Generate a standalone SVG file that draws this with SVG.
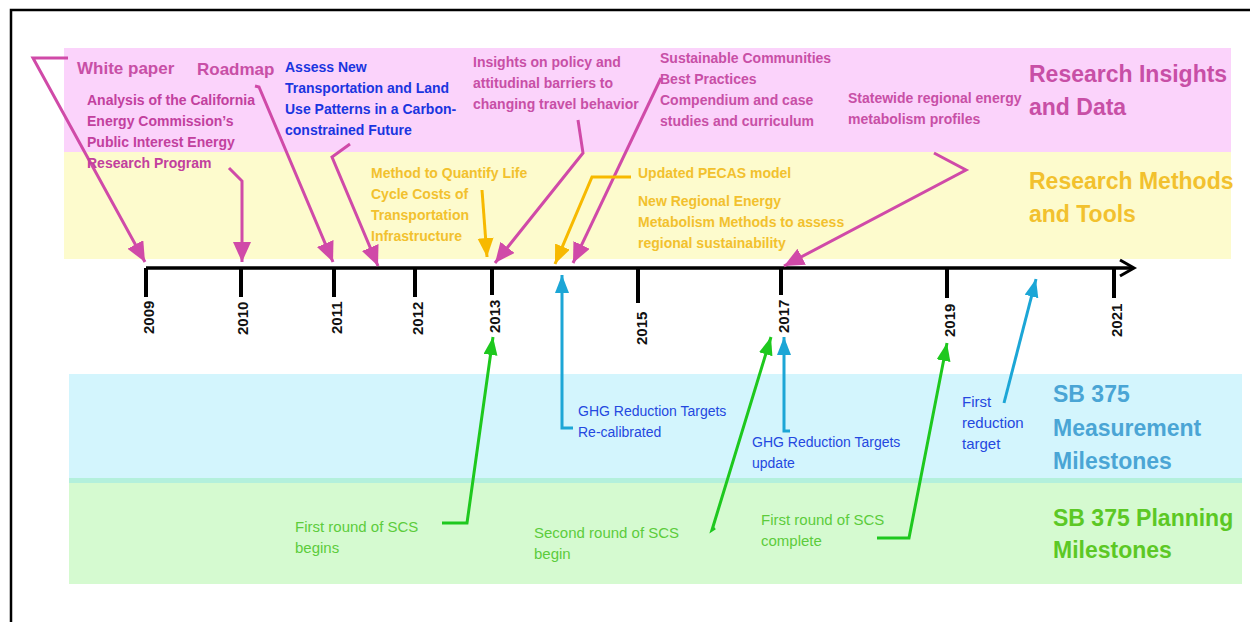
<svg xmlns="http://www.w3.org/2000/svg" width="1250" height="622" viewBox="0 0 1250 622">
<defs>
<style>
text{font-family:"Liberation Sans",Arial,sans-serif}
.b{font-weight:bold}
.t14{font-size:14px}
.t15{font-size:15px}
.t17{font-size:17px}
.big{font-size:23px;font-weight:bold}
.yr{font-size:15px;font-weight:bold;fill:#111}
.pk{fill:#c84fa6}
.pk2{fill:#c2409e}
.bl{fill:#1a35e0}
.ye{fill:#f2c12e}
.bt{fill:#2448e0}
.gt{fill:#5ccc3c}
.lp{fill:none;stroke:#d04aa8;stroke-width:3;stroke-linejoin:miter}
.ly{fill:none;stroke:#f7b900;stroke-width:3}
.lb{fill:none;stroke:#1ca6d6;stroke-width:3}
.lg{fill:none;stroke:#1ec81e;stroke-width:3}
.tick{stroke:#000;stroke-width:4}
</style>
<marker id="ap" markerUnits="userSpaceOnUse" markerWidth="22" markerHeight="20" refX="20" refY="9" orient="auto"><path d="M0,0 L20,9 L0,18 z" fill="#d04aa8"/></marker>
<marker id="ay" markerUnits="userSpaceOnUse" markerWidth="22" markerHeight="20" refX="19" refY="8" orient="auto"><path d="M0,0 L19,8 L0,16 z" fill="#f7b900"/></marker>
<marker id="ab" markerUnits="userSpaceOnUse" markerWidth="22" markerHeight="20" refX="18" refY="7" orient="auto"><path d="M0,0 L18,7 L0,14 z" fill="#1ca6d6"/></marker>
<marker id="ag" markerUnits="userSpaceOnUse" markerWidth="22" markerHeight="20" refX="18" refY="7" orient="auto"><path d="M0,0 L18,7 L0,14 z" fill="#1ec81e"/></marker>
</defs>
<rect x="0" y="0" width="1250" height="622" fill="#fff"/>
<path d="M11,622 V10 H1250" fill="none" stroke="#000" stroke-width="2.5"/>
<g id="bands">
<rect x="64" y="48" width="1167" height="104" fill="#fbd3fb"/>
<rect x="64" y="152" width="1167" height="107" fill="#fdfbcd"/>
<rect x="69" y="374" width="1173" height="105" fill="#d3f5fd"/>
<rect x="69" y="478" width="1173" height="5" fill="#b3f0dc"/>
<rect x="69" y="483" width="1173" height="101" fill="#d5fad0"/>
</g>
<g id="axis">
<path d="M146,268 H1133" stroke="#000" stroke-width="3.5" fill="none"/>
<path d="M1120,260 L1134,268 L1120,276" stroke="#000" stroke-width="3" fill="none"/>
<path class="tick" d="M146,268 V297 M241,268 V297 M334,268 V297 M415,268 V297 M492,268 V295 M638,268 V303 M781,268 V295 M947,268 V298 M1114,268 V298"/>
<text class="yr" transform="translate(154,334) rotate(-90)">2009</text>
<text class="yr" transform="translate(248,335) rotate(-90)">2010</text>
<text class="yr" transform="translate(342,334) rotate(-90)">2011</text>
<text class="yr" transform="translate(423,335) rotate(-90)">2012</text>
<text class="yr" transform="translate(500,333) rotate(-90)">2013</text>
<text class="yr" transform="translate(647,345) rotate(-90)">2015</text>
<text class="yr" transform="translate(789,333) rotate(-90)">2017</text>
<text class="yr" transform="translate(955,337) rotate(-90)">2019</text>
<text class="yr" transform="translate(1122,337) rotate(-90)">2021</text>
</g>
<g id="connectors">
<polyline class="lp" points="68,58 33,58 145,262" marker-end="url(#ap)"/>
<polyline class="lp" points="255,86 259,87 333,262" marker-end="url(#ap)"/>
<polyline class="lp" points="229,168 242,181 242,262" marker-end="url(#ap)"/>
<polyline class="lp" points="350,144 332,157 378,266" marker-end="url(#ap)"/>
<polyline class="lp" points="578,120 583,153 495,263" marker-end="url(#ap)"/>
<polyline class="lp" points="661,78 573,263" marker-end="url(#ap)"/>
<polyline class="lp" points="934,153 966,170 784,266" marker-end="url(#ap)"/>
<polyline class="ly" points="482,190 487,257" marker-end="url(#ay)"/>
<polyline class="ly" points="631,177 592,177 555,264" marker-end="url(#ay)"/>
<polyline class="lb" points="573,428 562,428 562,275" marker-end="url(#ab)"/>
<polyline class="lb" points="790,431 784,431 784,337" marker-end="url(#ab)"/>
<polyline class="lb" points="1004,403 1036,279" marker-end="url(#ab)"/>
<polyline class="lg" points="442,523 467,523 493,337" marker-end="url(#ag)"/>
<polyline class="lg" points="715,528 712,530 771,337" marker-end="url(#ag)"/>
<polyline class="lg" points="877,538 909,538 947,343" marker-end="url(#ag)"/>
</g>
<g id="white-paper"><text class="pk b t17" x="77" y="74">White paper</text></g>
<g id="roadmap"><text class="pk b t17" x="197" y="75">Roadmap</text></g>
<g id="analysis"><text class="pk2 b t14"><tspan x="87" y="105">Analysis of the California</tspan><tspan x="87" y="126">Energy Commission’s</tspan><tspan x="87" y="147">Public Interest Energy</tspan><tspan x="87" y="168">Research Program</tspan></text></g>
<g id="assess"><text class="bl b t14"><tspan x="285" y="72">Assess New</tspan><tspan x="285" y="93">Transportation and Land</tspan><tspan x="285" y="114">Use Patterns in a Carbon-</tspan><tspan x="285" y="135">constrained Future</tspan></text></g>
<g id="insights"><text class="pk b t14"><tspan x="473" y="67">Insights on policy and</tspan><tspan x="473" y="88">attitudinal barriers to</tspan><tspan x="473" y="109">changing travel behavior</tspan></text></g>
<g id="sustainable"><text class="pk b t14"><tspan x="660" y="63">Sustainable Communities</tspan><tspan x="660" y="84">Best Practices</tspan><tspan x="660" y="105">Compendium and case</tspan><tspan x="660" y="126">studies and curriculum</tspan></text></g>
<g id="statewide"><text class="pk b t14"><tspan x="848" y="103">Statewide regional energy</tspan><tspan x="848" y="124">metabolism profiles</tspan></text></g>
<g id="title-insights"><text class="pk big"><tspan x="1029" y="82">Research Insights</tspan><tspan x="1029" y="115">and Data</tspan></text></g>
<g id="method"><text class="ye b t14"><tspan x="371" y="178">Method to Quantify Life</tspan><tspan x="371" y="199">Cycle Costs of</tspan><tspan x="371" y="220">Transportation</tspan><tspan x="371" y="241">Infrastructure</tspan></text></g>
<g id="pecas"><text class="ye b t14" x="638" y="178">Updated PECAS model</text></g>
<g id="metabolism"><text class="ye b t14"><tspan x="638" y="206">New Regional Energy</tspan><tspan x="638" y="227">Metabolism Methods to assess</tspan><tspan x="638" y="248">regional sustainability</tspan></text></g>
<g id="title-methods"><text class="ye big"><tspan x="1029" y="189">Research Methods</tspan><tspan x="1029" y="222">and Tools</tspan></text></g>
<g id="ghg-recal"><text class="bt t14"><tspan x="578" y="416">GHG Reduction Targets</tspan><tspan x="578" y="437">Re-calibrated</tspan></text></g>
<g id="ghg-update"><text class="bt t14"><tspan x="752" y="447">GHG Reduction Targets</tspan><tspan x="752" y="468">update</tspan></text></g>
<g id="first-target"><text class="bt t15"><tspan x="962" y="407">First</tspan><tspan x="962" y="428">reduction</tspan><tspan x="962" y="449">target</tspan></text></g>
<g id="title-measure"><text class="big" fill="#4aa5d5"><tspan x="1053" y="402">SB 375</tspan><tspan x="1053" y="436">Measurement</tspan><tspan x="1053" y="469">Milestones</tspan></text></g>
<g id="scs-first"><text class="gt t15"><tspan x="295" y="532">First round of SCS</tspan><tspan x="295" y="553">begins</tspan></text></g>
<g id="scs-second"><text class="gt t15"><tspan x="534" y="538">Second round of SCS</tspan><tspan x="534" y="559">begin</tspan></text></g>
<g id="scs-complete"><text class="gt t15"><tspan x="761" y="525">First round of SCS</tspan><tspan x="761" y="546">complete</tspan></text></g>
<g id="title-planning"><text class="big" fill="#5cc825"><tspan x="1053" y="526">SB 375 Planning</tspan><tspan x="1053" y="558">Milestones</tspan></text></g>
</svg>
